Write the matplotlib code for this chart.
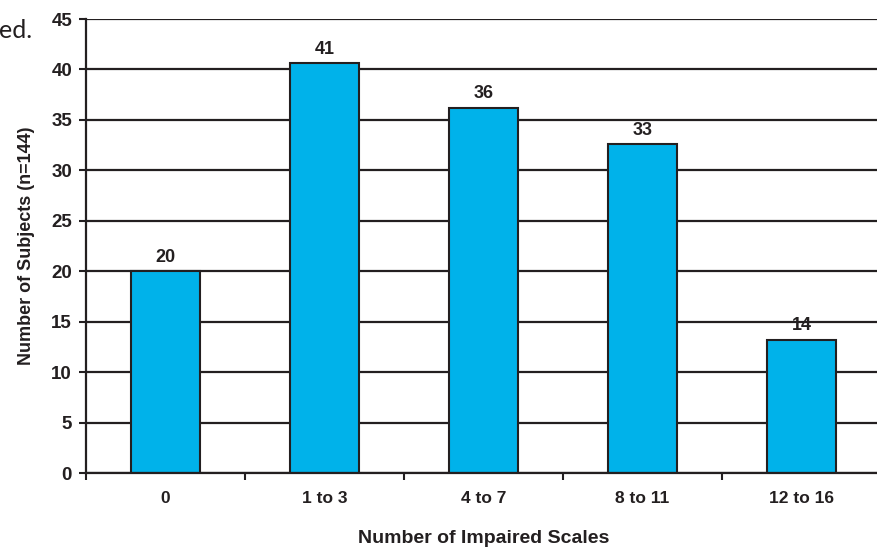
import matplotlib
matplotlib.use("Agg")
from matplotlib import pyplot as plt
import numpy as np

# Data
categories = ["0", "1 to 3", "4 to 7", "8 to 11", "12 to 16"]
bar_heights = [20.0, 40.6, 36.2, 32.6, 13.2]
bar_labels = ["20", "41", "36", "33", "14"]
y_ticks = [0, 5, 10, 15, 20, 25, 30, 35, 40, 45]

ink = "#231f20"
blue = "#00b2ea"

plt.rcParams["font.family"] = ["Liberation Sans", "DejaVu Sans"]

fig = plt.figure(figsize=(8.77, 5.47), dpi=100)
W, H = 877, 547
# axes from x=86 to ~881 px (goes just past the right edge), y from 19 to 473 px
ax = fig.add_axes([86 / W, (H - 473) / H, (881 - 86) / W, (473 - 19) / H])

x = np.arange(len(categories))
ax.bar(x, bar_heights, width=0.44, color=blue, edgecolor=ink, linewidth=1.5, zorder=3)

# value labels above bars
for xi, h, lab in zip(x, bar_heights, bar_labels):
    ax.annotate(lab, (xi, h), xytext=(0, 4), textcoords="offset points",
                ha="center", va="bottom", fontsize=13, fontweight="bold", color=ink)

ax.set_xlim(-0.5, len(categories) - 0.5)
ax.set_ylim(0, 45)
ax.set_yticks(y_ticks)
ax.set_yticklabels([str(t) for t in y_ticks], fontsize=13.5, fontweight="bold", color=ink)

ax.set_xticks(x)
ax.set_xticklabels(categories, fontsize=12.5, fontweight="bold", color=ink)
ax.set_xticks(np.arange(len(categories) + 1) - 0.5, minor=True)
ax.tick_params(axis="x", which="major", length=0, pad=13)
ax.tick_params(axis="x", which="minor", length=5, width=1.5, color=ink, direction="out")
ax.tick_params(axis="y", length=5, width=1.5, color=ink, direction="out", pad=5)

ax.grid(axis="y", color=ink, linewidth=1.6, zorder=0)
ax.set_axisbelow(True)

for s in ["top", "right"]:
    ax.spines[s].set_visible(False)
for s in ["left", "bottom"]:
    ax.spines[s].set_color(ink)
    ax.spines[s].set_linewidth(1.6)
    ax.spines[s].set_zorder(4)

ax.set_ylabel("Number of Subjects (n=144)", fontsize=13, fontweight="bold", color=ink, labelpad=12)
ax.set_xlabel("Number of Impaired Scales", fontsize=14, fontweight="bold", color=ink, labelpad=17)

# leftover text from the page the chart was cut from
fig.text(32 / W, 1 - 30 / H, "ed.", ha="right", va="center", fontsize=18,
         family=["Lato", "DejaVu Sans"], color=ink)

plt.savefig("out.png", dpi=100)
